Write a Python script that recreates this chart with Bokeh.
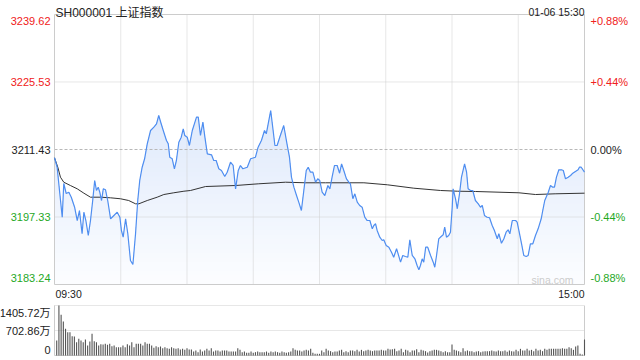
import numpy as np
from bokeh.plotting import figure
from bokeh.models import Range1d, ColumnDataSource
from bokeh.core.properties import value
from bokeh.embed import file_html
from bokeh.resources import INLINE

# ---------------- data ----------------
title_text = "SH000001 上证指数"
stamp_text = "01-06 15:30"
time_labels = ["09:30", "15:00"]
prev_close = 3211.43
price_ticks = [3239.62, 3225.53, 3211.43, 3197.33, 3183.24]
price_tick_labels = ["3239.62", "3225.53", "3211.43", "3197.33", "3183.24"]
pct_labels = ["+0.88%", "+0.44%", "0.00%", "-0.44%", "-0.88%"]
vol_ticks = [1405.72, 702.86, 0]
vol_tick_labels = ["1405.72万", "702.86万", "0"]

# minutes since 09:30 (trading minutes, lunch break removed)
price_t = [0, 1.2, 2.4, 3.5, 4.2, 5.3, 6.5, 7.6, 9.1, 10.3,
           11.3, 12.5, 13.3, 14.2, 15.3, 16.3, 17.3, 18.2, 19.0, 19.8,
           20.5, 21.3, 22.1, 23.1, 24.1, 25.4, 26.9, 28.4, 29.6, 30.3,
           31.1, 32.2, 33.2, 34.4, 35.5, 36.7, 37.7, 38.6, 39.7, 40.8,
           42.0, 43.5, 45.0, 46.2, 47.2, 48.3, 49.5, 50.7, 51.5, 52.2,
           53.3, 54.3, 55.2, 56.3, 57.4, 58.3, 59.0, 60.1, 61.1, 62.4,
           64.3, 65.1, 66.1, 67.2, 68.1, 69.2, 71.1, 72.1, 73.2, 74.4,
           75.6, 77.1, 78.2, 79.7, 80.9, 82.0, 83.2, 84.2, 85.3, 87.3,
           88.8, 91.0, 92.2, 93.7, 95.1, 95.9, 97.9, 99.0, 99.8, 100.8,
           102.0, 103.8, 105.4, 106.4, 107.3, 108.4, 109.6, 110.6, 111.8, 112.9,
           114.0, 114.9, 115.9, 117.0, 118.2, 119.2, 120.1, 121.2, 122.4, 123.8,
           124.7, 125.7, 126.8, 128.0, 129.1, 130.0, 131.0, 132.2, 133.3, 134.0,
           135.1, 136.0, 137.1, 138.2, 139.3, 140.5, 141.6, 142.8, 143.9, 144.6,
           145.4, 146.1, 147.3, 148.4, 149.1, 150.2, 151.4, 152.6, 153.6, 154.9,
           155.6, 156.7, 157.7, 158.9, 160.0, 160.9, 162.0, 163.2, 164.2, 165.0,
           165.7, 166.5, 167.2, 168.1, 169.0, 170.3, 171.5, 172.2, 173.0, 174.0,
           175.1, 176.0, 176.7, 177.5, 178.5, 179.3, 180.1, 180.5, 181.6, 182.4,
           183.4, 184.3, 185.7, 186.6, 187.3, 188.4, 189.4, 190.6, 191.9, 192.9,
           193.7, 194.7, 195.9, 197.0, 198.2, 199.2, 200.5, 201.2, 202.4, 203.5,
           204.5, 205.4, 206.2, 207.3, 208.8, 209.5, 210.6, 211.5, 212.5, 213.6,
           214.5, 215.5, 216.6, 217.8, 219.0, 220.4, 221.1, 222.0, 223.6, 224.6,
           225.6, 226.4, 227.3, 228.4, 229.6, 230.4, 231.4, 232.6, 233.7, 234.7,
           235.9, 237.1, 237.7, 238.5, 240]

price = [3209.70, 3207.73, 3202.24, 3197.29, 3204.33, 3202.24, 3202.51, 3201.47, 3199.38, 3196.60,
         3198.69, 3193.83, 3198.34, 3196.60, 3193.47, 3196.60, 3200.78, 3204.96, 3202.87, 3203.56,
         3202.51, 3200.78, 3203.22, 3203.02, 3200.78, 3196.96, 3197.65, 3198.34, 3197.29, 3194.52,
         3193.12, 3196.96, 3193.83, 3188.25, 3187.42, 3193.83, 3200.78, 3204.96, 3207.73, 3209.49,
         3212.62, 3215.40, 3216.09, 3216.80, 3218.53, 3216.80, 3215.04, 3213.31, 3212.62, 3209.82,
         3209.49, 3207.40, 3209.13, 3212.95, 3214.00, 3215.75, 3214.35, 3214.00, 3212.27, 3215.40,
         3218.18, 3218.18, 3214.35, 3217.13, 3214.00, 3210.53, 3210.32, 3209.13, 3209.13, 3207.40,
         3207.05, 3205.79, 3206.69, 3208.78, 3208.09, 3203.22, 3207.05, 3208.09, 3207.40, 3207.73,
         3209.49, 3209.82, 3211.91, 3213.31, 3215.40, 3214.71, 3219.57, 3215.40, 3212.27, 3212.27,
         3214.00, 3216.44, 3212.27, 3209.82, 3205.65, 3203.56, 3201.82, 3200.43, 3198.69, 3202.87,
         3207.05, 3207.73, 3206.69, 3206.69, 3204.60, 3205.31, 3204.96, 3202.51, 3201.82, 3203.91,
         3203.22, 3205.65, 3208.09, 3208.09, 3206.48, 3208.44, 3207.05, 3205.31, 3204.60, 3204.27,
         3201.14, 3202.18, 3200.43, 3199.74, 3199.38, 3197.29, 3196.60, 3196.60, 3194.87, 3195.56,
         3195.92, 3194.52, 3193.12, 3192.43, 3192.57, 3191.38, 3191.03, 3189.99, 3188.94, 3190.70,
         3189.65, 3187.90, 3189.30, 3189.09, 3188.94, 3192.57, 3189.30, 3188.61, 3187.21, 3186.31,
         3187.21, 3188.61, 3187.90, 3191.03, 3191.03, 3189.30, 3187.90, 3186.85, 3189.30, 3192.78,
         3193.26, 3193.62, 3195.21, 3193.12, 3193.47, 3194.16, 3199.38, 3203.22, 3201.14, 3199.05,
         3202.18, 3205.65, 3208.44, 3206.69, 3203.22, 3202.87, 3202.87, 3200.78, 3200.09, 3199.38,
         3199.74, 3197.65, 3197.29, 3197.17, 3195.56, 3194.52, 3192.78, 3193.83, 3191.86, 3192.78,
         3194.16, 3194.66, 3193.83, 3196.60, 3196.60, 3196.25, 3193.83, 3191.74, 3189.30, 3189.09,
         3189.30, 3191.74, 3191.74, 3193.47, 3194.87, 3196.96, 3198.69, 3200.78, 3202.51, 3203.91,
         3203.56, 3203.56, 3205.65, 3207.19, 3207.19, 3207.05, 3205.31, 3205.65, 3206.00, 3206.48,
         3206.84, 3207.19, 3207.73, 3207.73, 3206.69]

avg_t = [0, 1.5, 2.7, 4.2, 7.2, 10.3, 13.3, 16.3, 20.8, 25.4,
         29.9, 33.6, 36.7, 38.2, 42.0, 46.5, 49.5, 54.0, 58.6, 61.6,
         68.4, 82.0, 92.5, 104.6, 113.7, 122.7, 140.1, 150.7, 162.7, 174.8,
         182.4, 190.6, 210.3, 217.8, 226.7, 240]
avg_price = [3209.70, 3207.73, 3205.65, 3204.60, 3203.91, 3203.22, 3202.31, 3201.47, 3201.47, 3201.34,
             3201.14, 3200.78, 3200.09, 3200.09, 3200.78, 3201.47, 3202.03, 3202.39, 3202.72, 3202.87,
             3203.70, 3203.91, 3204.27, 3204.60, 3204.48, 3204.48, 3204.48, 3204.06, 3203.35, 3202.87,
             3202.72, 3202.66, 3202.39, 3202.03, 3202.18, 3202.31]

# volume per minute, in 万 (09:31 .. 11:30, then 13:01 .. 15:00)
vol_am = [422, 1405.72, 1143, 956, 750, 656, 656, 544, 534, 375,
          469, 422, 375, 450, 281, 394, 609, 403, 375, 281,
          319, 309, 328, 300, 328, 262, 281, 234, 234, 234,
          281, 234, 319, 281, 375, 234, 328, 328, 328, 281,
          375, 328, 328, 281, 216, 262, 234, 253, 206, 234,
          206, 187, 234, 206, 187, 206, 169, 187, 159, 206,
          169, 169, 112, 141, 94, 169, 112, 141, 187,
          141, 206, 112, 141, 141, 112, 141, 141, 141,
          112, 112, 112, 112, 206, 159, 94, 112, 75,
          75, 112, 75, 94, 112, 94, 94, 94, 112,
          75, 112, 94, 112, 94, 75, 112, 94, 75,
          94, 112, 206, 159, 141, 141, 112, 141, 159, 141,
          187, 75, 47, 47, 47]
vol_pm = [141, 94, 187, 141, 122, 94, 112, 112, 141, 159,
          94, 122, 94, 141, 141, 122, 159, 112, 159, 122,
          141, 159, 141, 122, 141, 141, 141, 159, 141,
          141, 187, 169, 178, 187, 122, 141, 187, 94,
          159, 141, 94, 141, 141, 178, 94, 159, 141, 122,
          84, 122, 141, 159, 159, 141, 122, 94, 122,
          94, 94, 309, 159, 141, 122, 94, 206, 122,
          141, 122, 122, 94, 112, 122, 94, 112, 122,
          122, 122, 141, 122, 112, 141, 122, 122, 141,
          103, 141, 122, 112, 159, 122, 187, 141, 141, 187,
          141, 159, 122, 187, 141, 159, 122, 187, 159, 187,
          187, 187, 187, 187, 187, 206, 187, 187, 234, 206,
          159, 253, 281, 47, 28, 450]

# ---------------- layout ----------------
W, H = 632, 358
FL, FR = 54, 584          # frame left/right (px)
MT, MB = 14, 284          # price panel top/bottom (px)
VT, VB = 305, 355         # volume panel top/bottom (px)
T0, T1 = 0, 240

FONT = "Liberation Sans"
FONT_CJK = "Liberation Sans, Noto Sans CJK SC"
RED, GREEN, DARK = "#f02020", "#1fa81f", "#222222"
BORDER, GRID = "#cccccc", "#cfcfcf"

lo, hi = price_ticks[-1], price_ticks[0]
vmax = vol_ticks[0]

ppm = (FR - FL) / (T1 - T0)
xs = T0 - FL / ppm
xe = xs + W / ppm
ppp = (MB - MT) / (hi - lo)
ye = hi + MT / ppp
ys = ye - H / ppp
ppv = (VB - VT) / vmax
ve = vmax + VT / ppv
vs = ve - H / ppv

p = figure(width=W, height=H, x_range=Range1d(xs, xe), y_range=Range1d(ys, ye),
           output_backend="svg", toolbar_location=None, min_border=0,
           x_axis_location=None, y_axis_location=None)
p.extra_y_ranges = {"vol": Range1d(vs, ve)}
p.xgrid.visible = False
p.ygrid.visible = False
p.outline_line_color = None
p.background_fill_color = "white"
p.border_fill_color = "white"

t = np.array(price_t, dtype=float)
pr = np.array(price, dtype=float)

# gradient area under price line
N = 60
top_rgb = np.array([206, 222, 249])
bot_rgb = np.array([252, 253, 255])
for k in range(N - 1, -1, -1):
    b1 = lo + (k + 1) * (hi - lo) / N
    f = (k + 0.5) / N
    c = bot_rgb + (top_rgb - bot_rgb) * f
    col = "#%02x%02x%02x" % tuple(int(round(v)) for v in c)
    p.varea(x=t, y1=np.full_like(pr, lo), y2=np.minimum(pr, b1), fill_color=col)

# grid lines (price panel)
grid_minutes = list(range(30, 240, 30))
p.segment(x0=grid_minutes, y0=[lo] * len(grid_minutes), x1=grid_minutes, y1=[hi] * len(grid_minutes),
          line_color=GRID, line_dash="1 1", line_width=1)
inner = [price_ticks[1], price_ticks[3]]
p.segment(x0=[T0] * 2, y0=inner, x1=[T1] * 2, y1=inner, line_color=GRID, line_dash="1 1", line_width=1)
p.segment(x0=[T0], y0=[prev_close], x1=[T1], y1=[prev_close], line_color="#b8b8b8", line_dash="3 2", line_width=1)

# price panel border
p.segment(x0=[T0, T1, T0, T0], y0=[lo, lo, lo, hi], x1=[T0, T1, T1, T1], y1=[hi, hi, lo, hi],
          line_color=BORDER, line_width=1)

# average & price lines
p.line(avg_t, avg_price, line_color="#333333", line_width=1)
p.line(t, pr, line_color="#4f8ef0", line_width=1.2)

# volume panel
vol = vol_am + vol_pm
vol_t = np.arange(1, len(vol) + 1)
p.segment(x0=[T0, T0], y0=[vol_ticks[0], vol_ticks[1]], x1=[T1, T1], y1=[vol_ticks[0], vol_ticks[1]],
          line_color=GRID, line_dash="1 1", line_width=1, y_range_name="vol")
p.segment(x0=[T0, T1, T0], y0=[0, 0, 0], x1=[T0, T1, T1], y1=[vmax, vmax, 0],
          line_color=BORDER, line_width=1, y_range_name="vol")
p.vbar(x=vol_t, width=0.5, top=vol, bottom=0, fill_color="#555555", line_color=None, y_range_name="vol")


def txt(x, y, texts, colors, align, baseline, xoff, yoff, size, rng="default", font=FONT):
    src = ColumnDataSource(dict(x=x, y=y, text=texts, color=colors, xo=xoff, yo=yoff))
    p.text(x="x", y="y", text="text", source=src, text_color="color", text_align=align,
           text_baseline=baseline, x_offset="xo", y_offset="yo", text_font=value(font),
           text_font_size=value(size), y_range_name=rng)


colors5 = [RED, RED, DARK, GREEN, GREEN]
yoffs5 = [6, 0, 0, 0, -7]
txt([T0] * 5, price_ticks, price_tick_labels, colors5, "right", "middle", [-4] * 5, yoffs5, "11px")
txt([T1] * 5, price_ticks, pct_labels, colors5, "left", "middle", [6] * 5, yoffs5, "11px")

txt([T0] * 3, vol_ticks, vol_tick_labels, [DARK] * 3, "right", "middle", [-4] * 3, [7, 0, -6], "11px",
    rng="vol", font=FONT_CJK)

txt([T0], [hi], [title_text], [DARK], "left", "alphabetic", [1], [-2], "12px", font=FONT_CJK)
txt([T1], [hi], [stamp_text], [DARK], "right", "alphabetic", [0], [-3], "10.5px")

txt([T0], [lo], [time_labels[0]], [DARK], "left", "middle", [1], [9.5], "10.5px")
txt([T1], [lo], [time_labels[1]], [DARK], "right", "middle", [0], [9.5], "10.5px")

txt([T1], [lo], ["sina.com"], ["#cccccc"], "right", "middle", [-11], [-4.5], "10.5px")

open("out.html", "w").write(file_html(p, INLINE))
